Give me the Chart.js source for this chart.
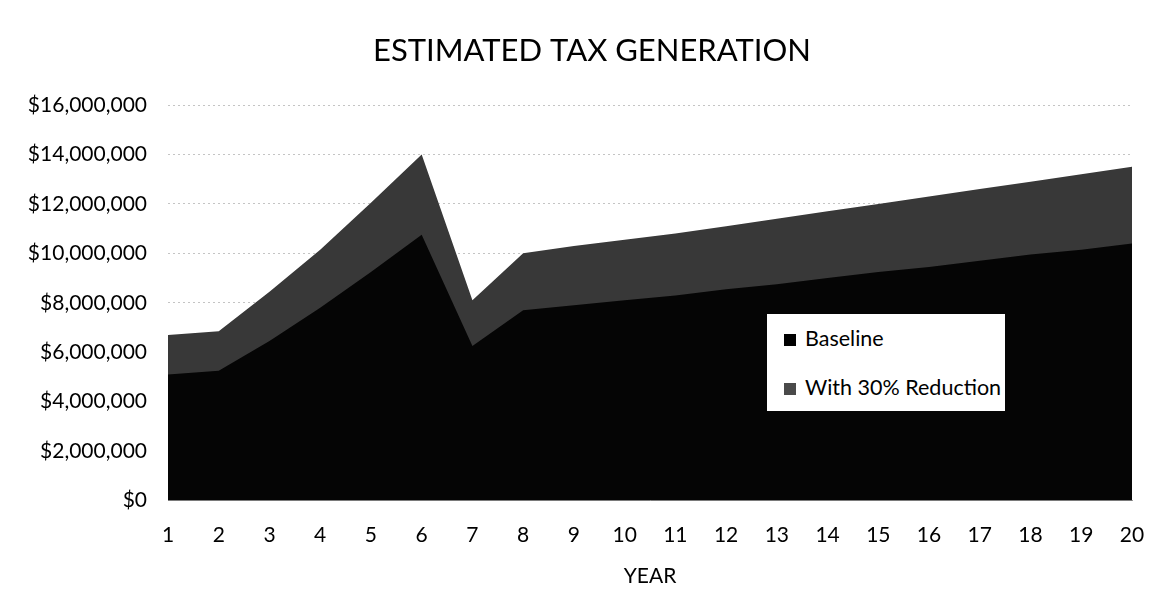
<!DOCTYPE html>
<html>
<head>
<meta charset="utf-8">
<script src="https://cdn.jsdelivr.net/npm/chart.js@4.4.1/dist/chart.umd.min.js"></script>
<style>
  html, body { margin: 0; padding: 0; background: #fff; }
  #wrap { position: relative; width: 1167px; height: 606px; }
  #legend {
    position: absolute; left: 767px; top: 314px; width: 238px; height: 97px;
    background: #fff; font-family: Lato, "Noto Sans", sans-serif; font-size: 21.5px; color: #000;
  }
  #legend div { position: absolute; left: 17px; height: 26px; line-height: 26px; white-space: nowrap; }
  #legend span { display: inline-block; width: 12px; height: 12px; margin-right: 9px; vertical-align: 0px; }
</style>
</head>
<body>
<div id="wrap">
  <canvas id="chart" width="1167" height="606"></canvas>
  <div id="legend"></div>
</div>
<script>
// values
var years = ['1','2','3','4','5','6','7','8','9','10','11','12','13','14','15','16','17','18','19','20'];
var baseline = [5100000, 5250000, 6450000, 7800000, 9250000, 10750000, 6250000, 7700000, 7900000, 8100000,
                8300000, 8550000, 8750000, 9000000, 9250000, 9450000, 9700000, 9950000, 10150000, 10400000];
var reduction = [6700000, 6850000, 8450000, 10150000, 12050000, 14000000, 8100000, 10000000, 10300000, 10550000,
                 10800000, 11100000, 11400000, 11700000, 12000000, 12300000, 12600000, 12900000, 13200000, 13500000];
var seriesNames = ['Baseline', 'With 30% Reduction'];
var seriesColors = ['#050505', '#383838'];
var chartTitle = 'ESTIMATED TAX GENERATION';

var font = 'Lato, "Noto Sans", sans-serif';

// legend box sits inside the plot, like the original
var legend = document.getElementById('legend');
seriesNames.forEach(function (name, i) {
  var d = document.createElement('div');
  d.style.top = (i === 0 ? 11 : 60) + 'px';
  d.innerHTML = '<span style="background:' + (i === 0 ? '#000' : '#4a4a4a') + '"></span>' + name;
  legend.appendChild(d);
});

// title is a bit right of centre in the original, so draw it ourselves
var titlePlugin = {
  id: 'titleText',
  afterDraw: function (chart) {
    var c = chart.ctx;
    c.save();
    c.font = '31px ' + font;
    c.fillStyle = '#000';
    c.textAlign = 'center';
    c.textBaseline = 'middle';
    c.fillText(chartTitle, 592, 51);
    c.restore();
  }
};

var ctx = document.getElementById('chart').getContext('2d');
new Chart(ctx, {
  type: 'line',
  data: {
    labels: years,
    datasets: [{
      label: seriesNames[0],
      data: baseline,
      backgroundColor: seriesColors[0],
      borderColor: seriesColors[0],
      borderWidth: 0,
      pointRadius: 0,
      fill: 'origin',
      tension: 0
    }, {
      label: seriesNames[1],
      data: reduction,
      backgroundColor: seriesColors[1],
      borderColor: seriesColors[1],
      borderWidth: 0,
      pointRadius: 0,
      fill: 'origin',
      tension: 0
    }]
  },
  plugins: [titlePlugin],
  options: {
    responsive: false,
    animation: false,
    layout: { padding: { top: 105, right: 35, bottom: 13, left: 0 } },
    plugins: {
      legend: { display: false },
      tooltip: { enabled: false },
      title: { display: false }
    },
    scales: {
      x: {
        offset: false,
        grid: { display: false, drawTicks: true, tickLength: 6, color: '#999' },
        border: { color: '#999' },
        ticks: { color: '#000', font: { family: font, size: 21 }, padding: 16, maxRotation: 0, autoSkip: false },
        title: { display: true, text: 'YEAR', color: '#000', font: { family: font, size: 21 }, padding: { top: 0, bottom: 4 } }
      },
      y: {
        min: 0,
        max: 16000000,
        afterFit: function (s) { s.width = 168; },
        grid: { color: '#c4c4c4', drawTicks: false },
        border: { display: false, dash: [2, 3] },
        ticks: {
          stepSize: 2000000,
          padding: 21,
          color: '#000',
          font: { family: font, size: 21 },
          callback: function (v) { return '$' + v.toLocaleString('en-US'); }
        }
      }
    }
  }
});
</script>
</body>
</html>
